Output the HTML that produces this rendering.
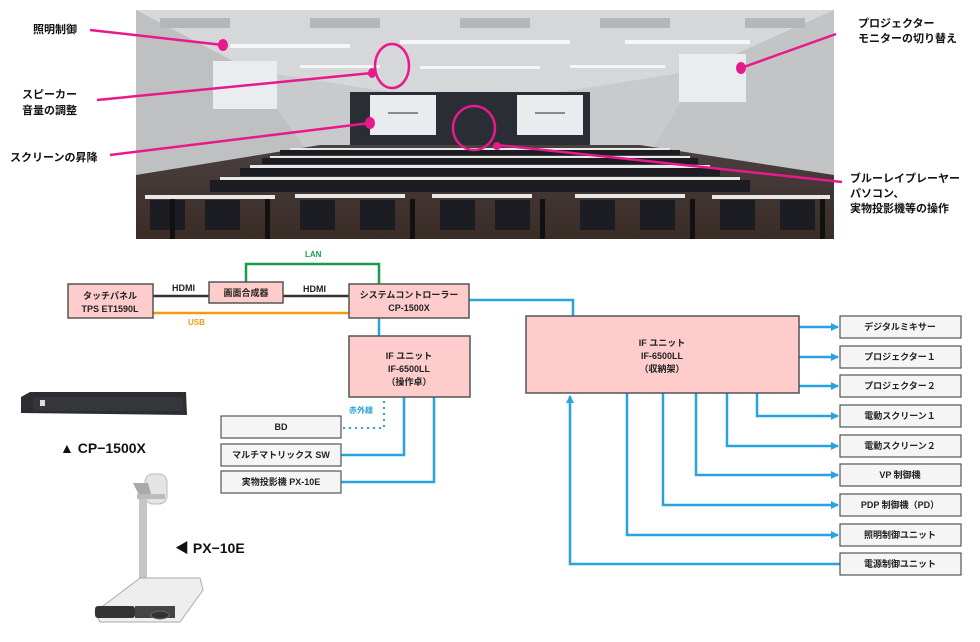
<!DOCTYPE html>
<html><head><meta charset="utf-8"><style>
html,body{margin:0;padding:0;background:#fff;}
svg{display:block;font-family:"Liberation Sans","Noto Sans CJK JP",sans-serif;}
.t{font-size:9px;font-weight:bold;fill:#222;}
.lb{font-size:11px;font-weight:bold;fill:#111;}
</style></head><body>
<svg width="980" height="642" viewBox="0 0 980 642">
<defs>
<marker id="ar" markerWidth="8" markerHeight="8" refX="7" refY="4" orient="auto" markerUnits="userSpaceOnUse"><path d="M0,0 L8,4 L0,8 Z" fill="#29a3e0"/></marker>
<linearGradient id="fl" x1="0" y1="0" x2="0" y2="1"><stop offset="0" stop-color="#4a4040"/><stop offset="1" stop-color="#3a2c26"/></linearGradient>
</defs>
<!-- photo -->
<rect x="136" y="10" width="698" height="229" fill="#c9cacc"/>
<polygon points="136,10 834,10 700,70 560,92 390,92 250,70" fill="#d6d7d9"/>
<polygon points="136,10 250,70 320,170 136,200" fill="#bfc0c2"/>
<polygon points="834,10 700,70 640,170 834,200" fill="#c3c4c6"/>
<rect x="350" y="92" width="240" height="70" fill="#2a2d33"/>
<rect x="370" y="95" width="66" height="40" fill="#e8ecef"/>
<rect x="517" y="95" width="66" height="40" fill="#e8ecef"/>
<g fill="#889"><rect x="388" y="112" width="30" height="2"/><rect x="535" y="112" width="30" height="2"/><rect x="232" y="86" width="26" height="2"/><rect x="698" y="80" width="28" height="2"/></g>
<rect x="213" y="61" width="64" height="48" fill="#e9edf0"/>
<rect x="679" y="54" width="67" height="48" fill="#e9edf0"/>
<g fill="#b5b6b8"><rect x="160" y="18" width="70" height="10"/><rect x="310" y="18" width="70" height="10"/><rect x="460" y="18" width="70" height="10"/><rect x="600" y="18" width="70" height="10"/><rect x="745" y="18" width="60" height="10"/></g>
<g fill="#f4f6f8"><rect x="230" y="44" width="120" height="4"/><rect x="400" y="40" width="170" height="4"/><rect x="625" y="40" width="125" height="4"/><rect x="300" y="65" width="80" height="3"/><rect x="420" y="66" width="120" height="3"/><rect x="570" y="65" width="95" height="3"/></g>
<polygon points="136,239 834,239 834,175 640,145 320,145 136,175" fill="url(#fl)"/>
<!-- tables rows -->
<g fill="#e8e8e8">
<rect x="290" y="148" width="380" height="2"/>
<rect x="270" y="156" width="420" height="2"/>
<rect x="250" y="165" width="460" height="3"/>
<rect x="220" y="177" width="520" height="3"/>
<rect x="145" y="195" width="130" height="4"/><rect x="295" y="194" width="110" height="4"/><rect x="432" y="194" width="100" height="4"/><rect x="575" y="194" width="110" height="4"/><rect x="712" y="195" width="118" height="4"/>
</g>
<g fill="#1b1d22">
<rect x="280" y="150" width="400" height="5"/>
<rect x="262" y="158" width="436" height="6"/>
<rect x="240" y="168" width="480" height="8"/>
<rect x="210" y="180" width="540" height="12"/>
<rect x="150" y="200" width="35" height="30"/><rect x="205" y="200" width="35" height="30"/>
<rect x="300" y="200" width="35" height="30"/><rect x="360" y="200" width="35" height="30"/>
<rect x="440" y="200" width="35" height="30"/><rect x="495" y="200" width="35" height="30"/>
<rect x="580" y="200" width="35" height="30"/><rect x="640" y="200" width="35" height="30"/>
<rect x="720" y="200" width="35" height="30"/><rect x="780" y="200" width="35" height="30"/>
</g>
<g fill="#111"><rect x="170" y="199" width="5" height="40"/><rect x="265" y="199" width="5" height="40"/><rect x="410" y="199" width="5" height="40"/><rect x="540" y="199" width="5" height="40"/><rect x="690" y="199" width="5" height="40"/><rect x="820" y="199" width="5" height="40"/></g>
<!-- pink annotations -->
<g stroke="#e8198b" stroke-width="2.5" fill="none">
<line x1="90" y1="30" x2="223" y2="45"/>
<line x1="97" y1="100" x2="372" y2="73"/>
<line x1="110" y1="155" x2="370" y2="123"/>
<line x1="741" y1="68" x2="836" y2="34"/>
<line x1="497" y1="145" x2="842" y2="182"/>
<ellipse cx="392" cy="66" rx="17" ry="22"/>
<ellipse cx="474" cy="128" rx="21" ry="22"/>
</g>
<g fill="#e8198b"><ellipse cx="223" cy="45" rx="5" ry="6"/><ellipse cx="372" cy="73" rx="4" ry="5"/><ellipse cx="370" cy="123" rx="5" ry="6"/><ellipse cx="741" cy="68" rx="5" ry="6"/><ellipse cx="497" cy="146" rx="4" ry="4"/></g>
<g class="lb">
<text x="33" y="33">照明制御</text>
<text x="22" y="98">スピーカー</text><text x="22" y="114">音量の調整</text>
<text x="10" y="161">スクリーンの昇降</text>
<text x="858" y="27">プロジェクター</text><text x="858" y="42">モニターの切り替え</text>
<text x="850" y="182">ブルーレイプレーヤー</text><text x="850" y="197">パソコン、</text><text x="850" y="212">実物投影機等の操作</text>
</g>
<!-- connectors -->
<polyline points="246,282 246,264 379,264 379,284" stroke="#1a9a4a" stroke-width="2.5" fill="none"/>
<line x1="153" y1="296" x2="209" y2="296" stroke="#333" stroke-width="2.5"/>
<line x1="283" y1="296" x2="349" y2="296" stroke="#333" stroke-width="2.5"/>
<line x1="153" y1="313" x2="349" y2="313" stroke="#f29a12" stroke-width="2.5"/>
<text x="305" y="257" font-size="8" font-weight="bold" fill="#1a9a4a">LAN</text>
<text x="172" y="291" class="t" font-size="8">HDMI</text>
<text x="303" y="292" class="t" font-size="8">HDMI</text>
<text x="188" y="325" font-size="8" font-weight="bold" fill="#f29a12">USB</text>
<g stroke="#29a3e0" stroke-width="2.5" fill="none">
<polyline points="469,300 573,300 573,316"/>
<line x1="379" y1="318" x2="379" y2="336"/>
<polyline points="341,455 404,455 404,397"/>
<polyline points="341,482 434,482 434,397"/>
<polyline points="799,327 838,327" marker-end="url(#ar)"/>
<polyline points="799,357 838,357" marker-end="url(#ar)"/>
<polyline points="799,386 838,386" marker-end="url(#ar)"/>
<polyline points="757,393 757,416 838,416" marker-end="url(#ar)"/>
<polyline points="727,393 727,446 838,446" marker-end="url(#ar)"/>
<polyline points="696,393 696,475 838,475" marker-end="url(#ar)"/>
<polyline points="663,393 663,505 838,505" marker-end="url(#ar)"/>
<polyline points="627,393 627,535 838,535" marker-end="url(#ar)"/>
<polyline points="840,564 570,564 570,396" marker-end="url(#ar)"/>
</g>
<polyline points="343,428 384,428 384,399" stroke="#29a3e0" stroke-width="2" stroke-dasharray="2,4" fill="none"/>
<text x="349" y="413" font-size="8" font-weight="bold" fill="#29a3e0">赤外線</text>
<!-- boxes -->
<g stroke="#555" stroke-width="1.5" fill="#ffcccc">
<rect x="68" y="284" width="85" height="34"/>
<rect x="209" y="282" width="74" height="21"/>
<rect x="349" y="284" width="120" height="34"/>
<rect x="349" y="336" width="121" height="61"/>
<rect x="526" y="316" width="273" height="77"/>
</g>
<g stroke="#555" stroke-width="1.2" fill="#f5f5f5">
<rect x="221" y="416" width="120" height="22"/><rect x="221" y="444" width="120" height="22"/><rect x="221" y="471" width="120" height="22"/>
<rect x="840" y="316" width="121" height="22"/><rect x="840" y="346" width="121" height="22"/><rect x="840" y="375" width="121" height="22"/>
<rect x="840" y="405" width="121" height="22"/><rect x="840" y="435" width="121" height="22"/><rect x="840" y="464" width="121" height="22"/>
<rect x="840" y="494" width="121" height="22"/><rect x="840" y="524" width="121" height="22"/><rect x="840" y="553" width="121" height="22"/>
</g>
<g class="t" text-anchor="middle">
<text x="110" y="299">タッチパネル</text><text x="110" y="312">TPS ET1590L</text>
<text x="246" y="296">画面合成器</text>
<text x="409" y="298">システムコントローラー</text><text x="409" y="311">CP-1500X</text>
<text x="409" y="359">IF ユニット</text><text x="409" y="372">IF-6500LL</text><text x="409" y="385">（操作卓）</text>
<text x="662" y="346">IF ユニット</text><text x="662" y="359">IF-6500LL</text><text x="662" y="372">（収納架）</text>
<text x="281" y="430">BD</text><text x="281" y="458">マルチマトリックス SW</text><text x="281" y="485">実物投影機 PX-10E</text>
<text x="900" y="330">デジタルミキサー</text><text x="900" y="360">プロジェクター１</text><text x="900" y="389">プロジェクター２</text>
<text x="900" y="419">電動スクリーン１</text><text x="900" y="449">電動スクリーン２</text><text x="900" y="478">VP 制御機</text>
<text x="900" y="508">PDP 制御機（PD）</text><text x="900" y="538">照明制御ユニット</text><text x="900" y="567">電源制御ユニット</text>
</g>
<!-- devices -->
<polygon points="21,397 30,392 186,392 187,415 21,413" fill="#2b2d31"/>
<rect x="33" y="397" width="150" height="14" fill="#34363b"/>
<rect x="40" y="400" width="5" height="6" fill="#ddd"/>
<text x="60" y="453" font-size="14" font-weight="bold" fill="#111">▲ CP−1500X</text>
<text x="175" y="553" font-size="14" font-weight="bold" fill="#111">◀ PX−10E</text>
<rect x="145" y="474" width="22" height="30" rx="8" fill="#e4e4e4" stroke="#bbb"/>
<polygon points="133,483 148,483 152,497 140,497" fill="#aaa"/>
<rect x="137" y="494" width="28" height="5" fill="#bbb"/>
<rect x="139" y="499" width="8" height="82" fill="#c6c6c6"/>
<polygon points="95,612 140,578 200,578 203,590 180,622 100,622" fill="#eeeeee" stroke="#aaa"/>
<rect x="95" y="606" width="40" height="12" rx="3" fill="#333"/>
<rect x="135" y="606" width="40" height="12" fill="#444"/>
<ellipse cx="160" cy="615" rx="9" ry="4" fill="#333" stroke="#666"/>
</svg>
</body></html>
